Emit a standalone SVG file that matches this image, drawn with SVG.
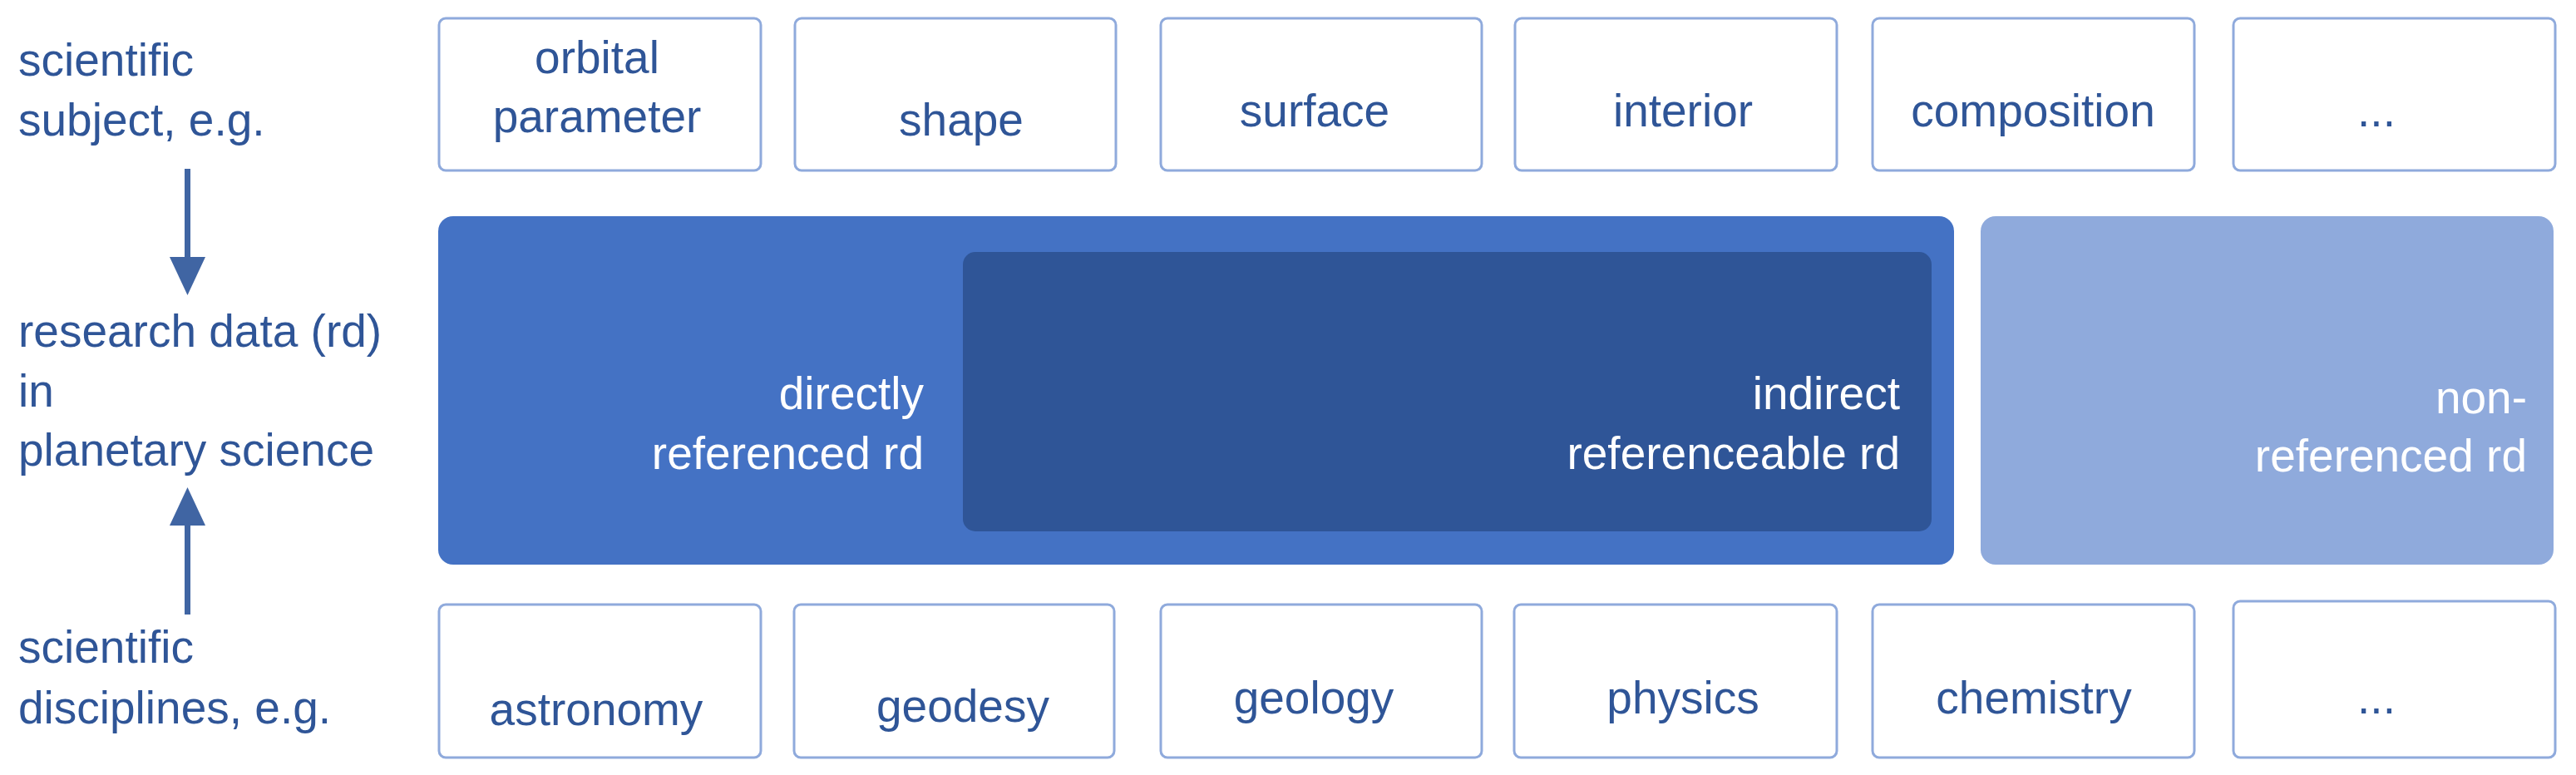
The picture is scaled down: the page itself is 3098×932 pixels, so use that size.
<svg xmlns="http://www.w3.org/2000/svg" width="3098" height="932" viewBox="0 0 3098 932">
<style>
text{font-family:"Liberation Sans",Arial,sans-serif;font-size:55px}
.lbl{fill:#2F5597}
.box rect{fill:#FFFFFF;stroke:#8FAADC;stroke-width:3}
.box text{fill:#2F5597;text-anchor:middle}
.wt{fill:#FFFFFF;text-anchor:end}
.conn{stroke:#4065A3;stroke-width:7;fill:none}
</style>
<defs>
<marker id="ah" viewBox="0 0 46 43" markerWidth="46" markerHeight="43" refX="0" refY="21.5" orient="auto" markerUnits="userSpaceOnUse">
<path d="M0,0 L46,21.5 L0,43 Z" fill="#4065A3"/>
</marker>
</defs>
<rect width="3098" height="932" fill="#FFFFFF"/>

<g id="label-subject" class="lbl">
<text x="22" y="91">scientific</text>
<text x="22" y="163">subject, e.g.</text>
</g>
<g id="label-rd" class="lbl">
<text x="22" y="417">research data (rd)</text>
<text x="22" y="489">in</text>
<text x="22" y="560">planetary science</text>
</g>
<g id="label-disciplines" class="lbl">
<text x="22" y="797">scientific</text>
<text x="22" y="870">disciplines, e.g.</text>
</g>

<g id="connectors">
<line class="conn" x1="225.5" y1="203" x2="225.5" y2="309" marker-end="url(#ah)"/>
<line class="conn" x1="225.5" y1="739" x2="225.5" y2="632" marker-end="url(#ah)"/>
</g>

<g id="subj-orbital" class="box"><rect x="528" y="22" width="387" height="183" rx="8"/><text x="718" y="88">orbital</text><text x="718" y="159">parameter</text></g>
<g id="subj-shape" class="box"><rect x="956" y="22" width="386" height="183" rx="8"/><text x="1156" y="163">shape</text></g>
<g id="subj-surface" class="box"><rect x="1396" y="22" width="386" height="183" rx="8"/><text x="1581" y="152">surface</text></g>
<g id="subj-interior" class="box"><rect x="1822" y="22" width="387" height="183" rx="8"/><text x="2024" y="152">interior</text></g>
<g id="subj-composition" class="box"><rect x="2252" y="22" width="387" height="183" rx="8"/><text x="2445" y="152">composition</text></g>
<g id="subj-more" class="box"><rect x="2686" y="22" width="387" height="183" rx="8"/><text x="2858" y="152">...</text></g>

<g id="rd-direct">
<rect x="527" y="260" width="1823" height="419" rx="18" fill="#4472C4"/>
<text class="wt" x="1111" y="492">directly</text>
<text class="wt" x="1111" y="564">referenced rd</text>
</g>
<g id="rd-indirect">
<rect x="1158" y="303" width="1165" height="336" rx="15" fill="#2F5597"/>
<text class="wt" x="2285" y="492">indirect</text>
<text class="wt" x="2285" y="564">referenceable rd</text>
</g>
<g id="rd-non">
<rect x="2382" y="260" width="689" height="419" rx="18" fill="#8FAADC"/>
<text class="wt" x="3039" y="497">non-</text>
<text class="wt" x="3039" y="567">referenced rd</text>
</g>

<g id="disc-astronomy" class="box"><rect x="528" y="727" width="387" height="184" rx="8"/><text x="717" y="872">astronomy</text></g>
<g id="disc-geodesy" class="box"><rect x="955" y="727" width="385" height="184" rx="8"/><text x="1158" y="868">geodesy</text></g>
<g id="disc-geology" class="box"><rect x="1396" y="727" width="386" height="184" rx="8"/><text x="1580" y="858">geology</text></g>
<g id="disc-physics" class="box"><rect x="1821" y="727" width="388" height="184" rx="8"/><text x="2024" y="858">physics</text></g>
<g id="disc-chemistry" class="box"><rect x="2252" y="727" width="387" height="184" rx="8"/><text x="2446" y="858">chemistry</text></g>
<g id="disc-more" class="box"><rect x="2686" y="723" width="387" height="188" rx="8"/><text x="2858" y="858">...</text></g>
</svg>
